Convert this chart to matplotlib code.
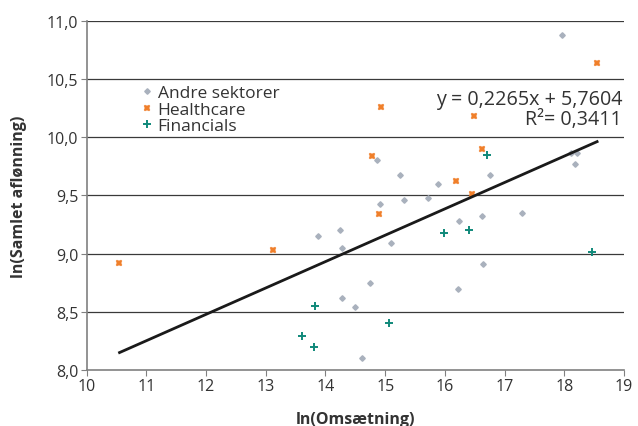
import matplotlib
matplotlib.use("Agg")
import matplotlib.pyplot as plt
import numpy as np

plt.rcParams['font.family'] = ['Open Sans', 'DejaVu Sans']

andre_x = [17.97, 14.87, 15.25, 15.89, 15.72, 16.76, 18.12, 18.21, 18.18, 14.92, 15.32, 17.29,
           16.62, 16.24, 14.25, 14.28, 15.09, 16.64, 14.74, 16.22, 14.28, 14.50, 14.61, 13.87]
andre_y = [10.88, 9.80, 9.675, 9.60, 9.48, 9.675, 9.86, 9.86, 9.77, 9.425, 9.46, 9.35,
           9.32, 9.28, 9.20, 9.05, 9.09, 8.91, 8.75, 8.70, 8.62, 8.54, 8.10, 9.155]
health_x = [18.55, 14.93, 16.49, 16.63, 14.78, 16.19, 16.46, 14.89, 10.54, 13.12]
health_y = [10.64, 10.26, 10.18, 9.90, 9.84, 9.62, 9.51, 9.34, 8.92, 9.03]
fin_x = [16.70, 15.98, 16.40, 18.47, 15.07, 13.82, 13.61, 13.80]
fin_y = [9.85, 9.18, 9.20, 9.01, 8.40, 8.55, 8.29, 8.20]

slope, intercept = 0.2265, 5.7604
trend_x = [10.55, 18.55]

xticks = list(range(10, 20))
yticks = [8.0, 8.5, 9.0, 9.5, 10.0, 10.5, 11.0]

fig = plt.figure(figsize=(6.38, 4.27), dpi=100)
ax = fig.add_axes([0.1359, 0.1311, 0.978 - 0.1359, 0.949 - 0.1311])

for yv in yticks[1:]:
    ax.axhline(yv, color='#3a3a3a', lw=0.9, zorder=1)

ax.plot(andre_x, andre_y, linestyle='none', marker='D', ms=2.8, color='#A9B1BD',
        mec='#A9B1BD', label='Andre sektorer', zorder=3)
ax.plot(health_x, health_y, linestyle='none', marker='X', ms=5, color='#F07F2A',
        mec='#F07F2A', mew=0.3, label='Healthcare', zorder=3)
ax.plot(fin_x, fin_y, linestyle='none', marker='+', ms=6, mew=1.4, color='#10897A',
        label='Financials', zorder=3)

tx = np.array(trend_x)
ax.plot(tx, slope * tx + intercept, color='#1a1a1a', lw=2, zorder=4)

ax.set_xlim(10, 19)
ax.set_ylim(8.0, 11.0)
ax.set_xticks(xticks)
ax.set_yticks(yticks)
ax.set_yticklabels([f"{v:.1f}".replace('.', ',') for v in yticks])
ax.tick_params(axis='both', direction='out', length=4, color='#808080',
               labelsize=11.5, labelcolor='#333333', pad=2)
for s in ['top', 'right']:
    ax.spines[s].set_visible(False)
for s in ['left', 'bottom']:
    ax.spines[s].set_color('#808080')
    ax.spines[s].set_linewidth(1.2)

ax.set_xlabel('ln(Omsætning)', fontsize=11.5, fontweight='bold', color='#333333', labelpad=12)
ax.set_ylabel('ln(Samlet aflønning)', fontsize=11.5, fontweight='bold', color='#333333', labelpad=14)

ax.text(18.97, 10.33, 'y = 0,2265x + 5,7604', ha='right', va='center', fontsize=14.2, color='#333333')
ax.text(18.97, 10.155, 'R²= 0,3411', ha='right', va='center', fontsize=14.2, color='#333333')

leg = ax.legend(loc='upper left', bbox_to_anchor=(0.09, 0.835), frameon=False, fontsize=12.5,
                handlelength=0.6, handletextpad=0.3, labelspacing=0.0, borderaxespad=0,
                labelcolor='#333333')

fig.savefig('out.png', dpi=100)
